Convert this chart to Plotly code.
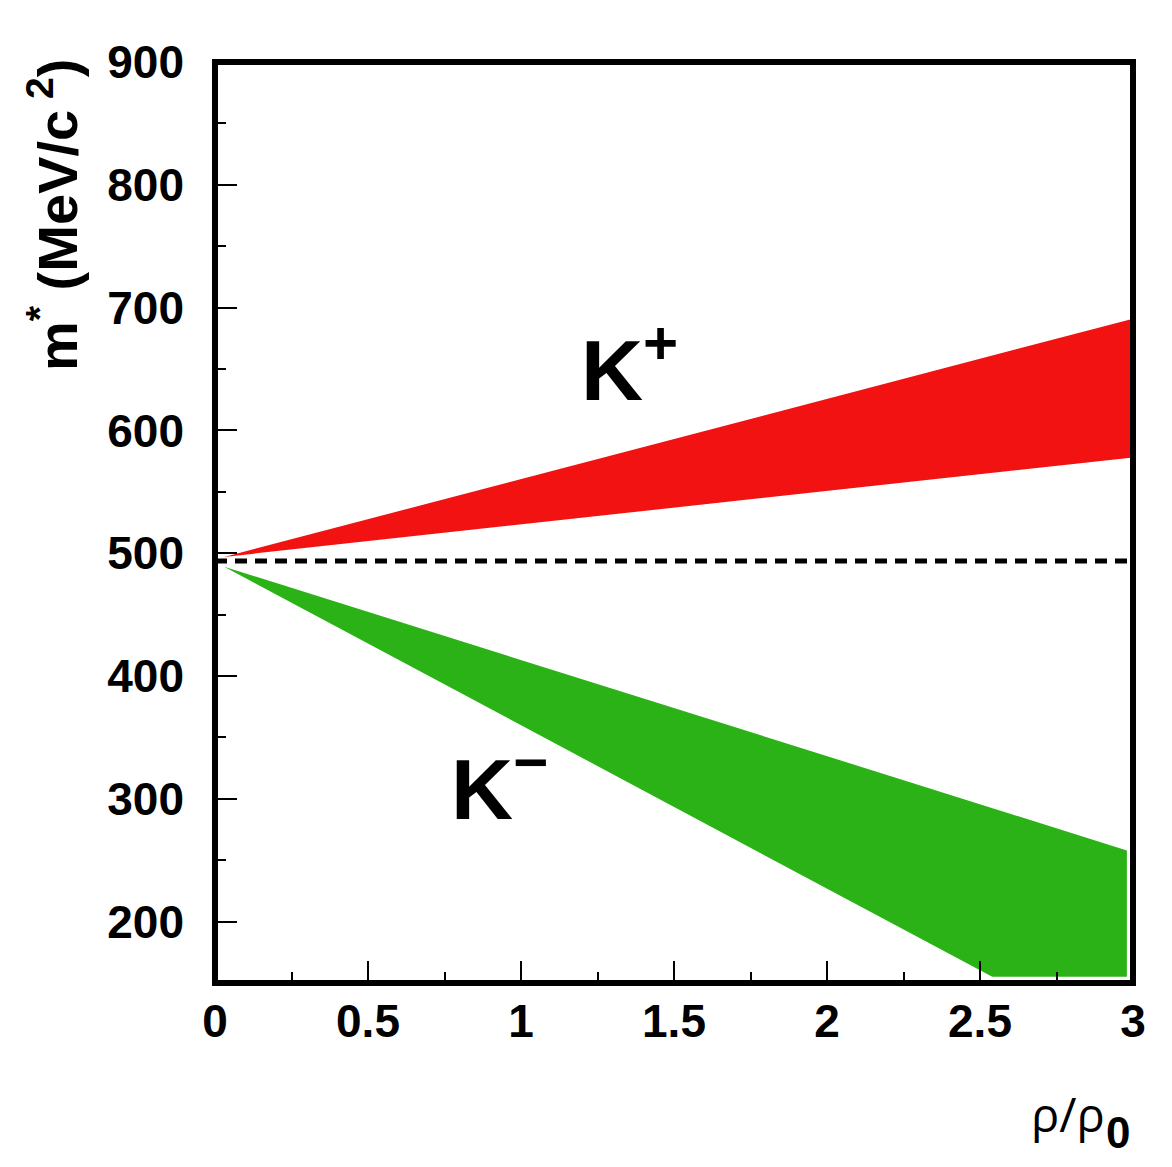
import plotly.graph_objects as go

# Data
kplus_x = [0.03, 3.0, 3.0, 0.03]
kplus_y = [497, 691, 578, 497]
kminus_x = [0.03, 2.98, 2.98, 2.54, 0.03]
kminus_y = [489, 258, 155, 155, 489]
kaon_mass = 493.7
x_ticks = [0, 0.5, 1, 1.5, 2, 2.5, 3]
x_ticklabels = ["0", "0.5", "1", "1.5", "2", "2.5", "3"]
y_ticks = [200, 300, 400, 500, 600, 700, 800, 900]

OFF = 8  # page body margin
W, H = 1172 - 2 * OFF, 1167 - 2 * OFF
L, T = 215 - OFF, 62 - OFF
PW, PH = 918, 921
R = W - L - PW
B = H - T - PH

fig = go.Figure()
fig.add_trace(go.Scatter(x=kplus_x, y=kplus_y, mode="lines", fill="toself",
                         fillcolor="#f21212", line=dict(width=0, color="#f21212"),
                         hoverinfo="skip", showlegend=False))
fig.add_trace(go.Scatter(x=kminus_x, y=kminus_y, mode="lines", fill="toself",
                         fillcolor="#2bb217", line=dict(width=0, color="#2bb217"),
                         hoverinfo="skip", showlegend=False))
fig.add_trace(go.Scatter(x=[0, 3], y=[kaon_mass, kaon_mass], mode="lines",
                         line=dict(color="black", width=5, dash="12px,8px"),
                         hoverinfo="skip", showlegend=False))

tickfont = dict(family="Liberation Sans, Arial, sans-serif", size=46, color="black", weight="bold")

fig.update_xaxes(range=[0, 3], tickvals=x_ticks, ticktext=x_ticklabels,
                 ticks="inside", ticklen=22, tickwidth=1.5, tickcolor="black",
                 minor=dict(dtick=0.25, ticks="inside", ticklen=11, tickwidth=1.5, tickcolor="black"),
                 showgrid=False, zeroline=False, showline=False, tickfont=tickfont,
                 ticklabelstandoff=7)
fig.update_yaxes(range=[150, 900], tickvals=y_ticks,
                 ticks="inside", ticklen=22, tickwidth=1.5, tickcolor="black",
                 minor=dict(dtick=50, ticks="inside", ticklen=11, tickwidth=1.5, tickcolor="black"),
                 showgrid=False, zeroline=False, showline=False, tickfont=tickfont,
                 ticklabelstandoff=30)


def px_to_paper_x(px):
    return (px - OFF - L) / PW


def py_to_paper_y(py):
    return (H - B - (py - OFF)) / PH


shapes = [
    dict(type="rect", xref="paper", yref="paper", x0=0, x1=1, y0=0, y1=1,
         line=dict(color="black", width=6), layer="above"),
]

bold_font = dict(family="Liberation Sans, Arial, sans-serif", color="black", weight="bold")
annotations = [
    dict(x=1.356, y=654, xref="x", yref="y", text="K<sup>+</sup>", showarrow=False,
         font=dict(size=86, **bold_font), xanchor="center", yanchor="middle"),
    dict(x=0.931, y=313, xref="x", yref="y", text="K<sup>−</sup>", showarrow=False,
         font=dict(size=86, **bold_font), xanchor="center", yanchor="middle"),
    dict(x=px_to_paper_x(54), y=py_to_paper_y(215), xref="paper", yref="paper",
         text="m<sup>*</sup> (MeV/c<sup> 2</sup>)", showarrow=False, textangle=-90,
         font=dict(size=56, **bold_font), xanchor="center", yanchor="middle"),
    dict(x=px_to_paper_x(1068), y=py_to_paper_y(1114), xref="paper", yref="paper",
         text="ρ/ρ", showarrow=False,
         font=dict(family="Open Sans, DejaVu Sans, sans-serif", size=47, color="black"),
         xanchor="center", yanchor="middle"),
    dict(x=px_to_paper_x(1118), y=py_to_paper_y(1132), xref="paper", yref="paper",
         text="0", showarrow=False,
         font=dict(size=44, **bold_font), xanchor="center", yanchor="middle"),
]

fig.update_layout(width=W, height=H, margin=dict(l=L, r=R, t=T, b=B),
                  paper_bgcolor="white", plot_bgcolor="white",
                  shapes=shapes, annotations=annotations, showlegend=False)

fig.write_html("out.html")
